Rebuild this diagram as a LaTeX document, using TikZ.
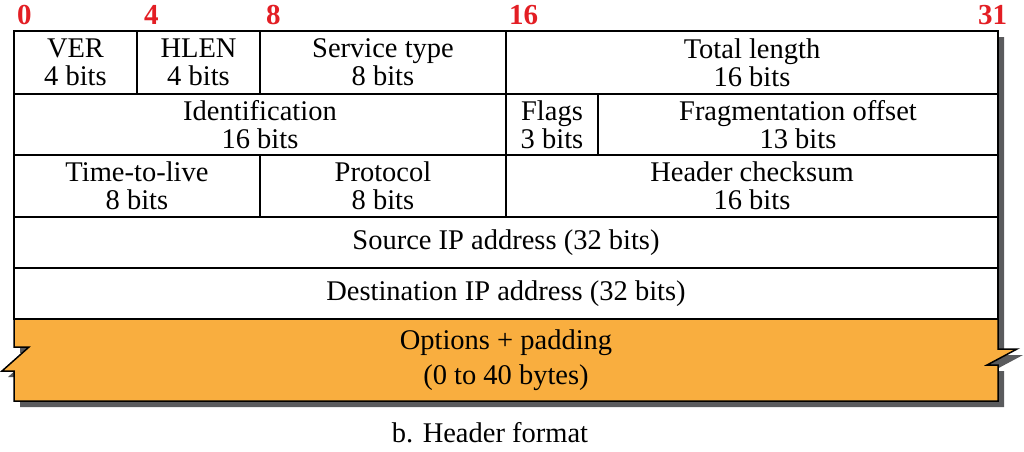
\documentclass[tikz,border=0pt]{standalone}
\usepackage{fontspec}
\setmainfont{Liberation Serif}
\definecolor{optorange}{HTML}{F9AE3F}
\definecolor{shadowgray}{HTML}{5A5B5D}
\definecolor{bitred}{HTML}{E31E24}

\begin{document}
\begin{tikzpicture}[x=1pt,y=-1pt,
    cell/.style={draw, line width=1.5pt, fill=white, anchor=north west, inner sep=0pt,
                 outer sep=0pt, align=center, font=\fontsize{28.5}{28}\selectfont},
    bitno/.style={anchor=base west, text=bitred, inner sep=0pt,
                  font=\fontsize{29}{28}\selectfont\bfseries}]
    \useasboundingbox (0,0) rectangle (1024,451);

    % bit numbers
    \node[bitno] (b0) at (17,24) {0};
    \node[bitno] (b4) at (144,24) {4};
    \node[bitno] (b8) at (266,24) {8};
    \node[bitno] (b16) at (509,24) {16};
    \node[bitno] (b31) at (978,24) {31};

    % shadow
    \fill[shadowgray, shift={(6,6)}] (14,31) -- (998,31) -- (998,349) -- (1017,349) -- (987,365)
        -- (998,365) -- (998,401) -- (14,401) -- (14,371) -- (2,371) -- (29,347) -- (14,347) -- cycle;

    % fields
    \node[cell, minimum width=123pt, minimum height=63pt] (ver) at (14,31) {VER\\4 bits};
    \node[cell, minimum width=123pt, minimum height=63pt] (hlen) at (137,31) {HLEN\\4 bits};
    \node[cell, minimum width=246pt, minimum height=63pt] (stype) at (260,31) {Service type\\8 bits};
    \node[cell, minimum width=492pt, minimum height=63pt] (tlen) at (506,31) {Total length\\16 bits};

    \node[cell, minimum width=492pt, minimum height=61pt] (ident) at (14,94) {Identification\\16 bits};
    \node[cell, minimum width=92pt, minimum height=61pt] (flags) at (506,94) {Flags\\3 bits};
    \node[cell, minimum width=400pt, minimum height=61pt] (fragoff) at (598,94) {Fragmentation offset\\13 bits};

    \node[cell, minimum width=246pt, minimum height=62pt] (ttl) at (14,155) {Time-to-live\\8 bits};
    \node[cell, minimum width=246pt, minimum height=62pt] (proto) at (260,155) {Protocol\\8 bits};
    \node[cell, minimum width=492pt, minimum height=62pt] (hcsum) at (506,155) {Header checksum\\16 bits};

    \node[cell, minimum width=984pt, minimum height=51pt] (srcip) at (14,217) {Source IP address (32 bits)};
    \node[cell, minimum width=984pt, minimum height=51pt] (dstip) at (14,268) {Destination IP address (32 bits)};

    % options
    \draw[line width=1.5pt, fill=optorange, line join=miter] (14,319) -- (998,319) -- (998,349) -- (1017,349)
        -- (987,365) -- (998,365) -- (998,401) -- (14,401) -- (14,371) -- (2,371) -- (29,347) -- (14,347) -- cycle;
    \node[align=center, font=\fontsize{28.5}{35}\selectfont] (opts) at (506,360) {Options + padding\\(0 to 40 bytes)};

    \node[font=\fontsize{28.5}{28}\selectfont] (caption) at (490,433) {b. Header format};
\end{tikzpicture}
\end{document}
